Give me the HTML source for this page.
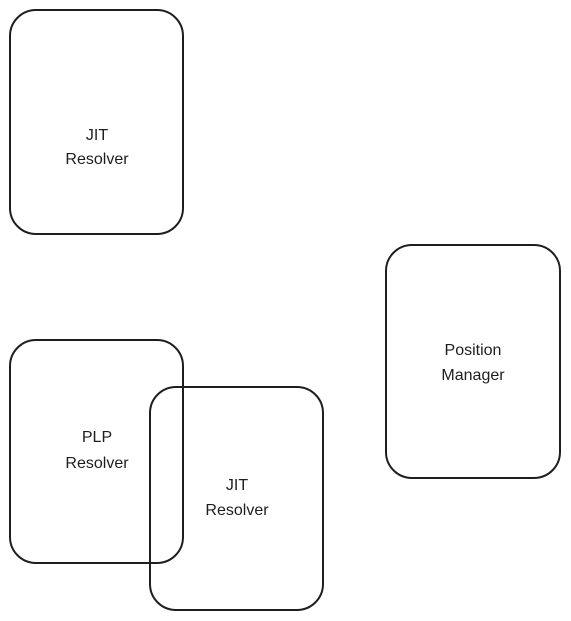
<!DOCTYPE html>
<html><head><meta charset="utf-8"><style>
html,body{margin:0;padding:0;background:#fff;}
svg{display:block}
text{font-family:"Liberation Sans",sans-serif;font-size:16px;fill:#1e1e1e;text-anchor:middle}
</style></head><body>
<svg width="571" height="621" viewBox="0 0 571 621" xmlns="http://www.w3.org/2000/svg">
<g fill="none" stroke="#1e1e1e" stroke-width="2">
<rect x="10" y="10" width="173" height="224" rx="26"/>
<rect x="386" y="245" width="174" height="233" rx="26"/>
<rect x="10" y="340" width="173" height="223" rx="26"/>
<rect x="150" y="387" width="173" height="223" rx="26"/>
</g>
<text x="97" y="140">JIT</text>
<text x="97" y="164">Resolver</text>
<text x="473" y="355">Position</text>
<text x="473" y="380">Manager</text>
<text x="97" y="442">PLP</text>
<text x="97" y="468">Resolver</text>
<text x="237" y="490">JIT</text>
<text x="237" y="515">Resolver</text>
</svg>
</body></html>
